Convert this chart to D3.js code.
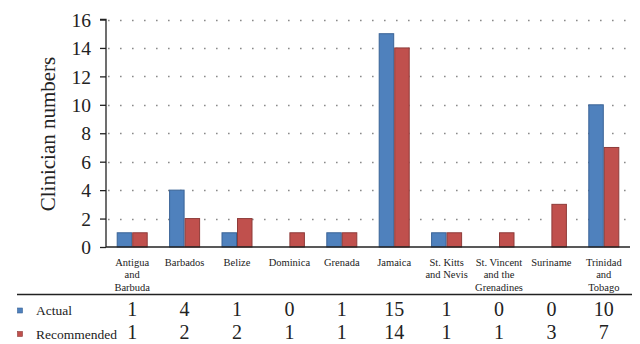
<!DOCTYPE html>
<html>
<head>
<meta charset="utf-8">
<script src="https://cdn.jsdelivr.net/npm/d3@7"></script>
<style>
  html, body { margin: 0; padding: 0; background: #fff; }
  svg { display: block; }
  text { font-family: "Liberation Serif", "DejaVu Serif", serif; fill: #222; }
</style>
</head>
<body>
<svg id="chart" width="640" height="344"></svg>
<script>
// Clinician counts per country
const countries = [
  ["Antigua", "and", "Barbuda"],
  ["Barbados"],
  ["Belize"],
  ["Dominica"],
  ["Grenada"],
  ["Jamaica"],
  ["St. Kitts", "and Nevis"],
  ["St. Vincent", "and the", "Grenadines"],
  ["Suriname"],
  ["Trinidad", "and", "Tobago"]
];
const actual      = [1, 4, 1, 0, 1, 15, 1, 0, 0, 10];
const recommended = [1, 2, 2, 1, 1, 14, 1, 1, 3, 7];
const seriesNames = ["Actual", "Recommended"];
const yTicks = [0, 2, 4, 6, 8, 10, 12, 14, 16];

const fills   = ["#4F81BD", "#C0504D"];
const strokes = ["#3A6396", "#8E3B39"];

const svg = d3.select("#chart");
const x0 = 106, x1 = 630, yTop = 19.5, yBase = 247;

const x = d3.scaleBand()
  .domain(d3.range(countries.length))
  .range([x0, x1])
  .paddingInner(0).paddingOuter(0);

const y = d3.scaleLinear().domain([0, 16]).range([yBase, yTop]);

const inner = d3.scaleBand().domain([0, 1]).range([0, 31]);
const groupOffset = (x.bandwidth() - 31) / 2;

// Dotted gridlines
svg.append("g")
  .selectAll("line")
  .data(yTicks.filter(d => d > 0))
  .join("line")
  .attr("x1", x0 + 2)
  .attr("x2", 626)
  .attr("y1", d => Math.round(y(d)) + 0.5)
  .attr("y2", d => Math.round(y(d)) + 0.5)
  .attr("stroke", "#8a8a8a")
  .attr("stroke-width", 1.3)
  .attr("stroke-dasharray", "1.6 10.4");

// Bars
const series = [actual, recommended];
series.forEach((vals, si) => {
  svg.append("g")
    .selectAll("rect")
    .data(vals.map((v, i) => ({ v, i })).filter(d => d.v > 0))
    .join("rect")
    .attr("x", d => x(d.i) + groupOffset + inner(si) + 0.5)
    .attr("y", d => y(d.v))
    .attr("width", inner.bandwidth() - 1)
    .attr("height", d => yBase - y(d.v))
    .attr("fill", fills[si])
    .attr("stroke", strokes[si])
    .attr("stroke-width", 1);
});

// Left axis
const yAxis = d3.axisLeft(y).tickValues(yTicks).tickSize(6).tickPadding(9).tickFormat(d3.format("d"));
const ga = svg.append("g").attr("transform", `translate(${x0},0)`).call(yAxis);
ga.attr("font-family", null);
ga.select(".domain").attr("stroke", "#222").attr("stroke-width", 1.3).attr("d", `M-6,${yTop}H0V${yBase}`);
ga.selectAll(".tick line").attr("stroke", "#222").attr("stroke-width", 1.3);
ga.selectAll(".tick text")
  .style("font-family", '"Liberation Serif", serif')
  .style("font-size", "19.5px")
  .attr("fill", "#222")
  .attr("dy", "0.34em");

// Baseline
svg.append("line")
  .attr("x1", x0).attr("x2", x1)
  .attr("y1", yBase).attr("y2", yBase)
  .attr("stroke", "#222").attr("stroke-width", 1.6);

// Axis title
svg.append("text")
  .attr("transform", `translate(55,134) rotate(-90)`)
  .attr("text-anchor", "middle")
  .style("font-size", "21px")
  .text("Clinician numbers");

// Category labels
const cat = svg.append("g");
countries.forEach((lines, i) => {
  const t = cat.append("text")
    .attr("text-anchor", "middle")
    .style("font-size", "10.5px");
  lines.forEach((ln, k) => {
    t.append("tspan")
      .attr("x", x(i) + x.bandwidth() / 2)
      .attr("y", 266 + k * 12.3)
      .text(ln);
  });
});

// Separator above the data table
svg.append("line")
  .attr("x1", 17).attr("x2", 632)
  .attr("y1", 294.5).attr("y2", 294.5)
  .attr("stroke", "#222").attr("stroke-width", 1.3);

// Data table
const rowY = [315.5, 339];
series.forEach((vals, si) => {
  svg.append("rect")
    .attr("x", 17.5).attr("y", rowY[si] - 7.5)
    .attr("width", 5).attr("height", 5)
    .attr("fill", fills[si]).attr("stroke", strokes[si]).attr("stroke-width", 0.6);
  svg.append("text")
    .attr("x", 36).attr("y", rowY[si] - 0.5)
    .style("font-size", "13.5px")
    .text(seriesNames[si]);
  svg.append("g")
    .selectAll("text")
    .data(vals)
    .join("text")
    .attr("x", (d, i) => x(i) + x.bandwidth() / 2)
    .attr("y", rowY[si])
    .attr("text-anchor", "middle")
    .style("font-size", "20px")
    .text(d => d);
});
</script>
</body>
</html>
